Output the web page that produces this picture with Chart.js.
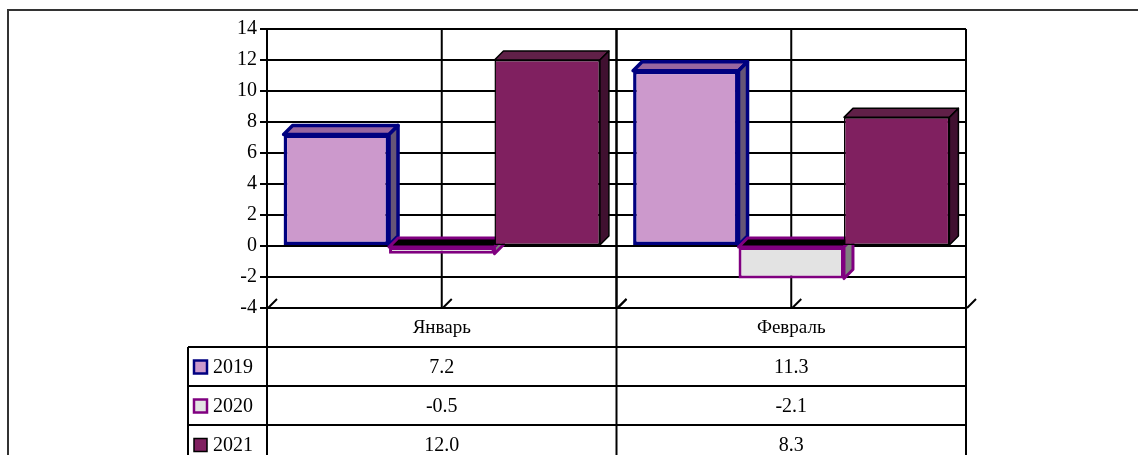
<!DOCTYPE html>
<html>
<head>
<meta charset="utf-8">
<script src="https://cdn.jsdelivr.net/npm/chart.js@4.4.1/dist/chart.umd.min.js"></script>
<style>
    html, body { margin: 0; padding: 0; background: #fff; }
    canvas { display: block; }
</style>
</head>
<body>
<canvas id="salesChart" width="1138" height="455"></canvas>
<script>
    // Chart data
    const categories = ["Январь", "Февраль"];
    const seriesNames = ["2019", "2020", "2021"];
    const values2019 = [7.2, 11.3];
    const values2020 = [-0.5, -2.1];
    const values2021 = [12.0, 8.3];
    const yTicks = [-4, -2, 0, 2, 4, 6, 8, 10, 12, 14];

    const FONT = "'Liberation Serif', 'Times New Roman', serif";
    const DEPTH = 9;
    const LINE = 2;

    // Face colours for each series: front, top, side, border
    const looks = [
        { front: "#CC99CC", top: "#9966A0", side: "#665577", border: "#000080", width: 3.5 },
        { front: "#E3E3E3", top: "#000000", side: "#808080", border: "#800080", width: 3 },
        { front: "#802060", top: "#602048", side: "#401030", border: "#000000", width: 1.5 }
    ];

    function poly(ctx, pts, fill, stroke, width) {
        ctx.beginPath();
        ctx.moveTo(pts[0][0], pts[0][1]);
        for (let i = 1; i < pts.length; i++) ctx.lineTo(pts[i][0], pts[i][1]);
        ctx.closePath();
        ctx.fillStyle = fill;
        ctx.fill();
        ctx.lineJoin = "round";
        ctx.strokeStyle = stroke;
        ctx.lineWidth = width;
        ctx.stroke();
    }

    // Frame, back wall verticals, floor slashes and the 3D bars
    const wallPlugin = {
        id: "wall",
        beforeDraw(chart) {
            const ctx = chart.ctx;
            ctx.save();
            ctx.strokeStyle = "#333";
            ctx.lineWidth = 2;
            ctx.beginPath();
            ctx.moveTo(8, 455);
            ctx.lineTo(8, 10);
            ctx.lineTo(1138, 10);
            ctx.stroke();
            ctx.restore();
        },
        beforeDatasetsDraw(chart) {
            const ctx = chart.ctx;
            const area = chart.chartArea;
            const x = chart.scales.x;
            const half = (x.getPixelForValue(1) - x.getPixelForValue(0)) / 2;
            const lines = [];
            categories.forEach((c, i) => {
                const cx = x.getPixelForValue(i);
                lines.push(cx - half, cx, cx + half);
            });
            ctx.save();
            ctx.strokeStyle = "#000";
            ctx.lineWidth = LINE;
            lines.forEach(px => {
                ctx.beginPath();
                ctx.moveTo(px, area.top);
                ctx.lineTo(px, area.bottom);
                ctx.stroke();
                ctx.beginPath();
                ctx.moveTo(px + 1, area.bottom);
                ctx.lineTo(px + DEPTH + 1, area.bottom - DEPTH);
                ctx.stroke();
            });

            // bars left to right: top face, side face, then the library's own front face
            categories.forEach((c, ci) => {
                chart.data.datasets.forEach((ds, di) => {
                    const bar = chart.getDatasetMeta(di).data[ci];
                    const look = looks[di];
                    const l = bar.x - bar.width / 2;
                    const r = bar.x + bar.width / 2;
                    const hi = Math.min(bar.y, bar.base);
                    const lo = Math.max(bar.y, bar.base);
                    poly(ctx, [[l, hi], [l + DEPTH, hi - DEPTH], [r + DEPTH, hi - DEPTH], [r, hi]],
                        look.top, look.border, look.width);
                    poly(ctx, [[r, hi], [r + DEPTH, hi - DEPTH], [r + DEPTH, lo - DEPTH], [r, lo]],
                        look.side, look.border, look.width);
                    bar.draw(ctx, area);
                });
            });
            ctx.restore();
            return false;
        }
    };

    // Data table under the plot
    const tablePlugin = {
        id: "dataTable",
        afterDraw(chart) {
            const ctx = chart.ctx;
            const area = chart.chartArea;
            const x = chart.scales.x;
            const half = (x.getPixelForValue(1) - x.getPixelForValue(0)) / 2;
            const rowH = 39;
            const top = area.bottom;
            const legendLeft = 188;
            const series = [values2019, values2020, values2021];

            ctx.save();
            ctx.strokeStyle = "#000";
            ctx.lineWidth = LINE;
            for (let r = 1; r <= series.length; r++) {
                const y = top + r * rowH;
                ctx.beginPath();
                ctx.moveTo(legendLeft, y);
                ctx.lineTo(area.right, y);
                ctx.stroke();
            }
            const verticals = [area.left];
            categories.forEach((c, i) => verticals.push(x.getPixelForValue(i) + half));
            verticals.forEach(px => {
                ctx.beginPath();
                ctx.moveTo(px, top);
                ctx.lineTo(px, 455);
                ctx.stroke();
            });
            ctx.beginPath();
            ctx.moveTo(legendLeft, top + rowH);
            ctx.lineTo(legendLeft, 455);
            ctx.stroke();

            ctx.fillStyle = "#000";
            ctx.textBaseline = "middle";
            ctx.textAlign = "center";
            ctx.font = "19px " + FONT;
            categories.forEach((c, i) => {
                ctx.fillText(c, x.getPixelForValue(i), top + rowH / 2 + 1);
            });
            ctx.font = "20px " + FONT;
            series.forEach((vals, s) => {
                const cy = top + rowH * (s + 1.5) + 1;
                vals.forEach((v, i) => {
                    ctx.fillStyle = "#000";
                    ctx.textAlign = "center";
                    ctx.fillText(v.toFixed(1), x.getPixelForValue(i), cy);
                });
                const look = looks[s];
                ctx.fillStyle = look.front;
                ctx.strokeStyle = look.border;
                ctx.lineWidth = s === 2 ? 1.5 : 2.5;
                ctx.fillRect(194, cy - 7, 13, 13);
                ctx.strokeRect(194, cy - 7, 13, 13);
                ctx.fillStyle = "#000";
                ctx.textAlign = "left";
                ctx.fillText(seriesNames[s], 213, cy);
            });
            ctx.restore();
        }
    };

    const datasets = [values2019, values2020, values2021].map((vals, i) => ({
        label: seriesNames[i],
        data: vals,
        backgroundColor: looks[i].front,
        borderColor: looks[i].border,
        borderWidth: looks[i].width,
        borderSkipped: false,
        categoryPercentage: 0.905,
        barPercentage: 1
    }));

    new Chart(document.getElementById("salesChart").getContext("2d"), {
        type: "bar",
        data: { labels: categories, datasets: datasets },
        options: {
            responsive: false,
            animation: false,
            events: [],
            layout: { padding: { left: 200, top: 29, right: 172, bottom: 147 } },
            plugins: {
                legend: { display: false },
                tooltip: { enabled: false }
            },
            scales: {
                x: {
                    grid: { display: false },
                    border: { display: false },
                    ticks: { display: false },
                    afterFit(scale) { scale.height = 0; }
                },
                y: {
                    min: -4,
                    max: 14,
                    afterBuildTicks(scale) { scale.ticks = yTicks.map(v => ({ value: v })); },
                    afterFit(scale) {
                        scale.width = 67;
                        scale.paddingTop = 0;
                        scale.paddingBottom = 0;
                    },
                    grid: { color: "#000", lineWidth: LINE, tickLength: 7 },
                    border: { color: "#000", width: LINE },
                    ticks: {
                        color: "#000",
                        padding: 3,
                        font: { family: FONT, size: 20 }
                    }
                }
            }
        },
        plugins: [wallPlugin, tablePlugin]
    });
</script>
</body>
</html>
